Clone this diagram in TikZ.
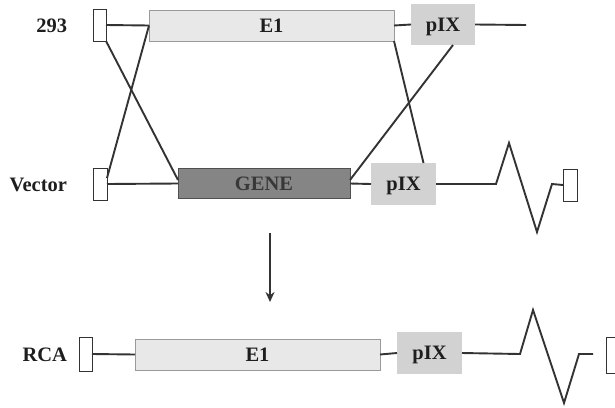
\documentclass[tikz,border=0pt]{standalone}
\usepackage{fontspec}
\setmainfont{Liberation Serif}
\usetikzlibrary{arrows.meta}
\definecolor{lineC}{HTML}{333333}
\definecolor{eoneF}{HTML}{E8E8E8}
\definecolor{eoneD}{HTML}{9A9A9A}
\definecolor{pixF}{HTML}{D2D2D2}
\definecolor{geneF}{HTML}{858585}
\definecolor{geneD}{HTML}{505050}
\definecolor{txtC}{HTML}{1E1E1E}
\begin{document}
\begin{tikzpicture}[x=1pt,y=-1pt,
  every node/.style={inner sep=0pt, outer sep=0pt, text height=13.5pt, text depth=0pt, font=\fontsize{20.5}{23}\selectfont\bfseries, text=txtC},
  endbox/.style={draw=lineC, fill=white, line width=0.9pt, minimum width=13pt, minimum height=32pt},
  eonebox/.style={draw=eoneD, fill=eoneF, line width=1pt, minimum width=245pt, minimum height=31pt},
  pixbox/.style={fill=pixF, minimum width=64pt, minimum height=41pt},
  genebox/.style={draw=geneD, fill=geneF, line width=1pt, minimum width=172pt, minimum height=30pt, text=black!78},
  conn/.style={draw=lineC, line width=1.9pt},
  lab/.style={anchor=east}
]
\useasboundingbox (0,0) rectangle (615,407);
% Row 1: 293
\node[lab] (l293) at (67,26) {293};
\node[endbox] (endA) at (99.5,25) {};
\node[eonebox] (eA) at (271.5,25.5) {E1};
\node[pixbox] (pA) at (443,24.5) {pIX};
\coordinate (tA) at (526,25);
\draw[conn] (endA.east) -- (eA.west);
\draw[conn] (eA.east) -- (pA.west);
\draw[conn] (pA.east) -- (tA);
% Row 2: Vector
\node[lab] (lV) at (67,185) {Vector};
\node[endbox, minimum width=14pt] (endB) at (100,184) {};
\node[genebox] (gene) at (264,183.5) {GENE};
\node[pixbox, minimum width=65pt, minimum height=42pt] (pB) at (403.5,184) {pIX};
\node[endbox, minimum width=14pt] (endC) at (570,185) {};
\coordinate (zB1) at (496,184);
\coordinate (zB2) at (509,143);
\coordinate (zB3) at (537,232);
\coordinate (zB4) at (552,184);
\draw[conn] (endB.east) -- (gene.west);
\draw[conn] (gene.east) -- (pB.west);
\draw[conn, line join=miter] (pB.east) -- (zB1) -- (zB2) -- (zB3) -- (zB4) -- (endC.west);
% crossovers
\draw[conn] (endA.south east) -- ([yshift=3.5pt]gene.west);
\draw[conn] (eA.west) -- ([yshift=6pt]endB.east);
\draw[conn] (eA.south east) -- ([xshift=20pt]pB.north);
\draw[conn] ([xshift=10pt]pA.south) -- ([yshift=3.5pt]gene.east);
% arrow
\coordinate (aS) at (270,233);
\coordinate (aE) at (270,302);
\draw[conn, -{Stealth[length=10pt,width=9pt]}] (aS) -- (aE);
% Row 3: RCA
\node[lab] (lR) at (67,355) {RCA};
\node[endbox, minimum height=34pt] (endD) at (85.5,354) {};
\node[eonebox] (eB) at (257.5,354.5) {E1};
\node[pixbox, minimum width=65pt, minimum height=42pt] (pC) at (429.5,353) {pIX};
\node[endbox, minimum width=14pt, minimum height=36pt] (endE) at (613,355) {};
\coordinate (zC1) at (520,354);
\coordinate (zC2) at (533,310);
\coordinate (zC3) at (564,403);
\coordinate (zC4) at (579,354);
\coordinate (zC5) at (593,354);
\draw[conn] (endD.east) -- (eB.west);
\draw[conn] (eB.east) -- (pC.west);
\draw[conn, line join=miter] (pC.east) -- (zC1) -- (zC2) -- (zC3) -- (zC4) -- (zC5);
\end{tikzpicture}
\end{document}
